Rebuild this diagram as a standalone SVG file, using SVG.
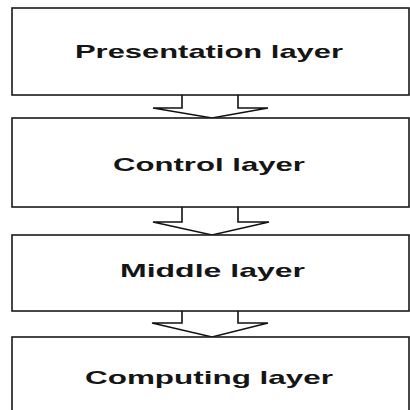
<svg xmlns="http://www.w3.org/2000/svg" width="410" height="410" viewBox="0 0 410 410">
  <style>
    .box { fill: #ffffff; stroke: #1a1a1a; stroke-width: 1.6; }
    .label { font-family: "Liberation Sans", Arial, sans-serif; font-weight: bold; font-size: 19px; fill: #151515; }
    .flow { fill: #ffffff; stroke: #111111; stroke-width: 1.6; stroke-linejoin: miter; }
  </style>
  <rect x="0" y="0" width="410" height="410" fill="#ffffff"/>

  <g id="connectors">
    <path class="flow" d="M182,95 V108 H153 L212,118 L268,108 H238 V95"/>
    <path class="flow" d="M182,207 V222 H153 L212,235 L269,222 H238 V207"/>
    <path class="flow" d="M182,311 V323 H152 L212,337 L268,323 H238 V311"/>
  </g>

  <g id="presentation">
    <rect class="box" x="12" y="8" width="397" height="87"/>
    <text class="label" x="75" y="58" textLength="268" lengthAdjust="spacingAndGlyphs">Presentation layer</text>
  </g>

  <g id="control">
    <rect class="box" x="12" y="118" width="397" height="89"/>
    <text class="label" x="113" y="171" textLength="192" lengthAdjust="spacingAndGlyphs">Control layer</text>
  </g>

  <g id="middle">
    <rect class="box" x="12" y="235" width="397" height="76"/>
    <text class="label" x="120" y="277" textLength="185" lengthAdjust="spacingAndGlyphs">Middle layer</text>
  </g>

  <g id="computing">
    <rect class="box" x="12" y="337" width="397" height="80"/>
    <text class="label" x="85" y="384" textLength="248" lengthAdjust="spacingAndGlyphs">Computing layer</text>
  </g>
</svg>
